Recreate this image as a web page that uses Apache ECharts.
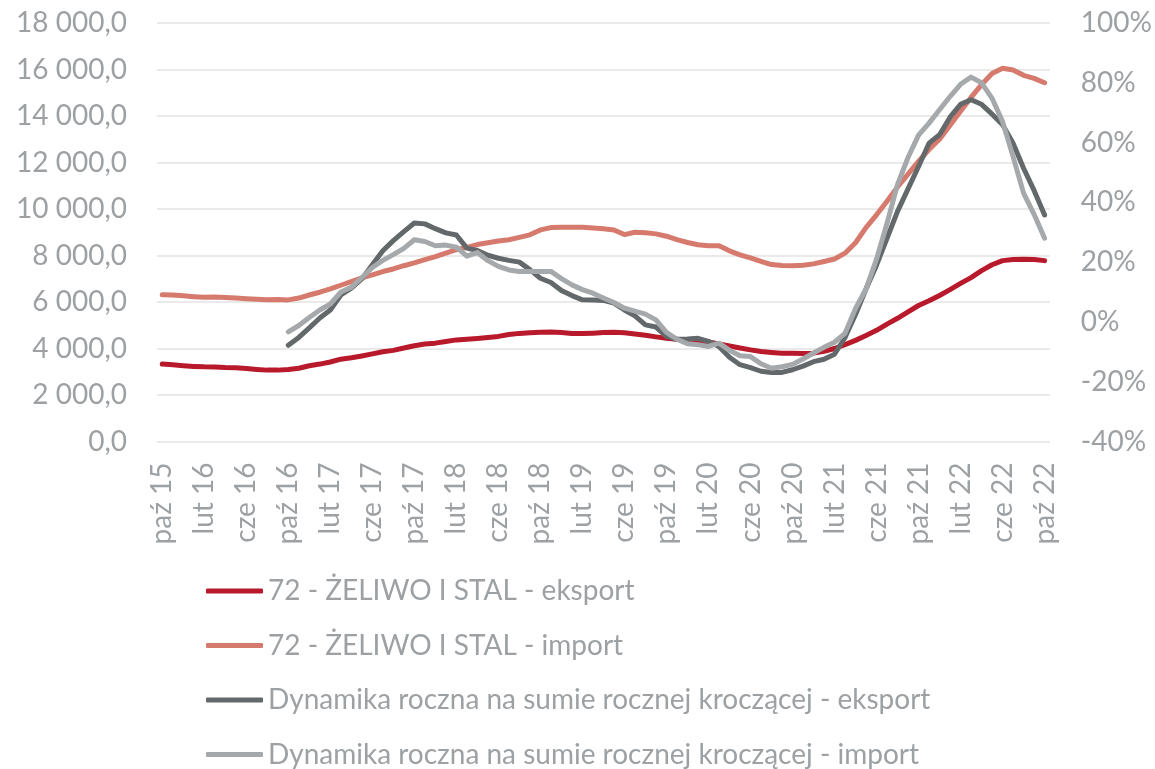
<!DOCTYPE html>
<html>
<head>
<meta charset="utf-8">
<script src="https://cdn.jsdelivr.net/npm/echarts@6/dist/echarts.min.js"></script>
<style>
  html, body { margin: 0; padding: 0; background: #ffffff; }
  #chart { width: 1155px; height: 769px; }
</style>
</head>
<body>
<div id="chart"></div>
<script>
// Monthly periods, October 2015 – October 2022
const monthNames = ['sty', 'lut', 'mar', 'kwi', 'maj', 'cze', 'lip', 'sie', 'wrz', 'paź', 'lis', 'gru'];
const categories = [];
for (let y = 2015, m = 9; y < 2022 || (y === 2022 && m <= 9); ) {
  categories.push(monthNames[m] + ' ' + String(y).slice(2));
  m++;
  if (m === 12) { m = 0; y++; }
}

// Values, rolling annual sum (left axis)
const eksport = [
  3330, 3300, 3260, 3230, 3210, 3200, 3180, 3170, 3140, 3100, 3070, 3070,
  3100, 3150, 3260, 3330, 3420, 3540, 3600, 3680, 3770, 3860, 3920, 4020,
  4120, 4190, 4230, 4300, 4370, 4400, 4430, 4470, 4520, 4600, 4650, 4680,
  4700, 4710, 4690, 4650, 4640, 4660, 4690, 4700, 4680, 4620, 4570, 4500,
  4440, 4400, 4360, 4320, 4280, 4200, 4110, 4020, 3940, 3870, 3830, 3800,
  3800, 3790, 3800, 3880, 4000, 4170, 4350, 4560, 4780, 5050, 5300, 5580,
  5850, 6050, 6280, 6530, 6800, 7050, 7350, 7600, 7780, 7830, 7840, 7830,
  7780
];
const importV = [
  6310, 6300, 6270, 6230, 6200, 6210, 6190, 6170, 6140, 6120, 6100, 6110,
  6090, 6170, 6300, 6420, 6560, 6720, 6880, 7040, 7170, 7310, 7420, 7560,
  7680, 7820, 7950, 8100, 8250, 8350, 8470, 8550, 8620, 8680, 8780, 8890,
  9100, 9200, 9220, 9220, 9220, 9180, 9150, 9100, 8900, 9000, 8980, 8930,
  8830, 8680, 8560, 8460, 8420, 8420, 8200, 8030, 7900, 7750, 7610, 7570,
  7560, 7580, 7640, 7740, 7850, 8100, 8550, 9200, 9750, 10330, 10950, 11500,
  12050, 12560, 13000, 13600, 14200, 14800, 15350, 15830, 16050, 15980, 15750, 15620,
  15430
];

// Year-on-year change of the rolling annual sum, % (right axis)
const dynEksport = [
  null, null, null, null, null, null, null, null, null, null, null, null,
  -7.8, -5.2, -2.0, 1.3, 4.0, 9.0, 11.3, 14.4, 19.1, 23.8, 27.2, 30.2,
  33.1, 32.8, 31.2, 29.8, 29.1, 24.7, 23.9, 22.3, 21.3, 20.6, 20.0, 17.5,
  14.6, 13.2, 10.5, 8.8, 7.4, 7.3, 7.2, 6.3, 4.0, 2.0, -1.0, -1.7,
  -4.8, -5.8, -5.7, -5.5, -6.5, -8.2, -11.8, -14.3, -15.3, -16.5, -16.9, -16.9,
  -16.0, -14.8, -13.3, -12.5, -10.8, -5.2, 2.5, 11.0, 19.0, 28.0, 37.0, 44.5,
  52.0, 59.8, 62.6, 68.5, 72.8, 74.3, 72.8, 69.5, 66.0, 59.8, 51.4, 44.0,
  35.8
];
const dynImport = [
  null, null, null, null, null, null, null, null, null, null, null, null,
  -3.3, -1.2, 1.5, 4.0, 6.0, 10.0, 11.6, 14.8, 18.2, 20.6, 22.5, 24.6,
  27.5, 26.9, 25.5, 25.7, 25.0, 22.0, 23.2, 20.5, 18.6, 17.4, 16.9, 16.9,
  16.9, 16.9, 14.5, 12.4, 10.8, 9.6, 8.0, 6.5, 4.6, 3.6, 2.6, 0.7,
  -3.5, -5.8, -7.3, -7.6, -8.2, -7.1, -9.5, -11.3, -11.6, -14.0, -15.5, -15.0,
  -14.2, -12.4, -10.4, -8.5, -6.8, -3.8, 4.5, 11.0, 21.0, 33.0, 46.0, 55.0,
  62.5, 66.5, 71.0, 75.4, 79.5, 81.9, 80.0, 74.8, 67.0, 55.3, 43.1, 36.0,
  28.0
];

const seriesNames = [
  '72 - ŻELIWO I STAL - eksport',
  '72 - ŻELIWO I STAL - import',
  'Dynamika roczna na sumie rocznej kroczącej - eksport',
  'Dynamika roczna na sumie rocznej kroczącej - import'
];
const seriesColors = ['#B8192B', '#D57A6D', '#63686B', '#A6A9AC'];

const textGray = '#9DA1A4';
const fontFamily = 'Lato, "Open Sans", sans-serif';
const fontSize = 28;

function fmtThousands(v) {
  const parts = Math.round(v).toString().replace(/\B(?=(\d{3})+(?!\d))/g, ' ');
  return parts + ',0';
}

const chart = echarts.init(document.getElementById('chart'), null, { renderer: 'canvas' });

const lineSeries = (name, data, color, axisIdx) => ({
  name: name,
  type: 'line',
  data: data,
  yAxisIndex: axisIdx,
  symbol: 'none',
  connectNulls: false,
  lineStyle: { color: color, width: 5, cap: 'round', join: 'round' },
  itemStyle: { color: color },
  emphasis: { disabled: true },
  animation: false
});

chart.setOption({
  animation: false,
  textStyle: { fontFamily: fontFamily },
  grid: { left: 157, right: 105, top: 23, height: 418.5, containLabel: false },
  legend: {
    orient: 'vertical',
    left: 206,
    top: 577,
    height: 300,
    padding: 0,
    itemWidth: 57,
    itemHeight: 5,
    itemGap: 26.5,
    icon: 'roundRect',
    textStyle: { color: textGray, fontSize: fontSize, lineHeight: 26, fontFamily: fontFamily },
    data: seriesNames
  },
  xAxis: {
    type: 'category',
    data: categories,
    boundaryGap: true,
    axisLine: { show: false },
    axisTick: { show: false },
    splitLine: { show: false },
    axisLabel: {
      interval: 3,
      rotate: 90,
      margin: 21,
      color: textGray,
      fontSize: fontSize,
      fontFamily: fontFamily
    }
  },
  yAxis: [
    {
      type: 'value',
      min: 0,
      max: 18000,
      interval: 2000,
      axisLine: { show: false },
      axisTick: { show: false },
      splitLine: { lineStyle: { color: '#E3E3E3', width: 1.5 } },
      axisLabel: {
        margin: 30,
        color: textGray,
        fontSize: fontSize,
        fontFamily: fontFamily,
        formatter: fmtThousands
      }
    },
    {
      type: 'value',
      min: -40,
      max: 100,
      interval: 20,
      position: 'right',
      axisLine: { show: false },
      axisTick: { show: false },
      splitLine: { show: false },
      axisLabel: {
        margin: 31,
        color: textGray,
        fontSize: fontSize,
        fontFamily: fontFamily,
        formatter: v => Math.round(v) + '%'
      }
    }
  ],
  series: [
    lineSeries(seriesNames[0], eksport, seriesColors[0], 0),
    lineSeries(seriesNames[1], importV, seriesColors[1], 0),
    lineSeries(seriesNames[2], dynEksport, seriesColors[2], 1),
    lineSeries(seriesNames[3], dynImport, seriesColors[3], 1)
  ]
});
</script>
</body>
</html>
